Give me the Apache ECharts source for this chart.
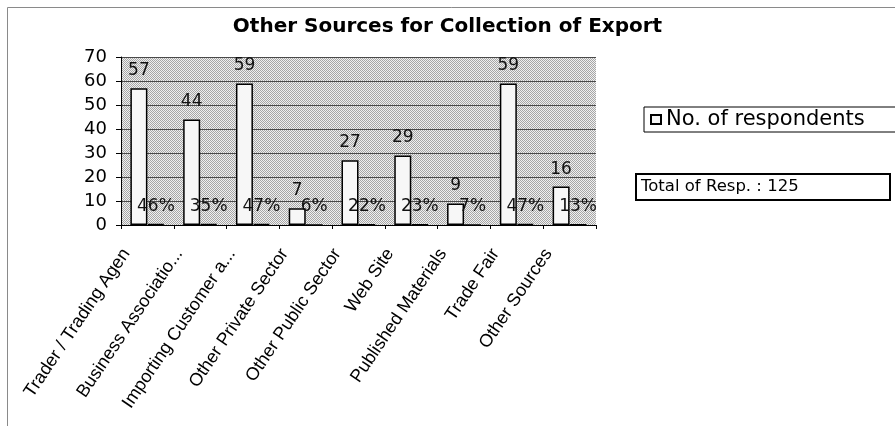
<!DOCTYPE html>
<html>
<head>
<meta charset="utf-8">
<title>Other Sources for Collection of Export</title>
<script src="https://cdn.jsdelivr.net/npm/echarts@6/dist/echarts.min.js"></script>
<style>
  html, body { margin: 0; padding: 0; background: #fff; }
  #chart { width: 895px; height: 426px; }
</style>
</head>
<body>
<div id="chart"></div>
<script>
// Source categories (long names are cut short the way the axis shows them)
const categories = [
  'Trader / Trading Agen',
  'Business Associatio...',
  'Importing Customer a...',
  'Other Private Sector',
  'Other Public Sector',
  'Web Site',
  'Published Materials',
  'Trade Fair',
  'Other Sources'
];

// Number of respondents per source
const respondents = [57, 44, 59, 7, 27, 29, 9, 59, 16];

// Share of all respondents per source (fraction of the total)
const shares = [0.46, 0.35, 0.47, 0.06, 0.22, 0.23, 0.07, 0.47, 0.13];

const totalRespondents = 125;

const yTicks = { min: 0, max: 70, step: 10 };

// Dithered grey fill for the plot area
function makeDither(dark, light) {
  const c = document.createElement('canvas');
  c.width = 2; c.height = 2;
  const ctx = c.getContext('2d');
  ctx.fillStyle = light; ctx.fillRect(0, 0, 2, 2);
  ctx.fillStyle = dark;
  ctx.fillRect(0, 0, 1, 1);
  ctx.fillRect(1, 1, 1, 1);
  return c;
}
const plotFill = { image: makeDither('#a6a6a6', '#f0f0f0'), repeat: 'repeat' };

const chart = echarts.init(document.getElementById('chart'), null, { renderer: 'canvas' });

const labelFont = 'DejaVu Sans';

chart.setOption({
  animation: false,
  backgroundColor: '#ffffff',
  title: {
    text: 'Other Sources for Collection of Export',
    left: 'center',
    top: 12,
    textStyle: {
      fontFamily: labelFont,
      fontWeight: 'bold',
      fontSize: 20,
      color: '#000'
    }
  },
  legend: {
    data: ['No. of respondents'],
    left: 644,
    top: 107,
    orient: 'vertical',
    padding: [2, 6, 2, 6],
    borderColor: '#000',
    borderWidth: 1,
    itemWidth: 10,
    itemHeight: 9,
    itemGap: 6,
    icon: 'rect',
    textStyle: {
      fontFamily: labelFont,
      fontSize: 21,
      lineHeight: 17,
      color: '#000',
      width: 250
    }
  },
  grid: {
    left: 121,
    right: 299,
    top: 57,
    bottom: 201,
    show: true,
    backgroundColor: plotFill,
    borderWidth: 0
  },
  xAxis: {
    type: 'category',
    data: categories,
    axisLine: { show: true, lineStyle: { color: '#000', width: 1 } },
    axisTick: { show: true, length: 4, lineStyle: { color: '#000' } },
    axisLabel: {
      interval: 0,
      rotate: 56,
      margin: -6,
      padding: [0, 38, 0, 0],
      fontFamily: 'Liberation Sans',
      fontSize: 18,
      color: '#000'
    }
  },
  yAxis: {
    type: 'value',
    min: yTicks.min,
    max: yTicks.max,
    interval: yTicks.step,
    axisLine: { show: true, lineStyle: { color: '#000', width: 1 } },
    axisTick: { show: true, length: 5, lineStyle: { color: '#000' } },
    axisLabel: {
      margin: 14,
      fontFamily: labelFont,
      fontSize: 18,
      color: '#000'
    },
    splitLine: { show: true, lineStyle: { color: '#4a4a4a', width: 1 } }
  },
  series: [
    {
      name: 'No. of respondents',
      type: 'bar',
      data: respondents,
      barWidth: 17,
      barGap: '0%',
      itemStyle: { color: '#f7f7f7', borderColor: '#000', borderWidth: 1.5 },
      label: {
        show: true,
        position: 'top',
        distance: 9,
        fontFamily: labelFont,
        fontSize: 17,
        color: '#111'
      }
    },
    {
      name: 'Share of respondents',
      type: 'bar',
      data: shares,
      barWidth: 17,
      barGap: '0%',
      itemStyle: { color: '#f7f7f7', borderColor: '#000', borderWidth: 1.5 },
      label: {
        show: true,
        position: 'top',
        distance: 9,
        fontFamily: labelFont,
        fontSize: 17,
        color: '#111',
        formatter: p => Math.round(p.value * 100) + '%'
      }
    }
  ],
  graphic: [
    {
      type: 'rect',
      silent: true,
      shape: { x: 7.5, y: 7.5, width: 1000, height: 1000 },
      style: { fill: 'none', stroke: '#8a8a8a', lineWidth: 1 }
    },
    {
      type: 'group',
      left: 635,
      top: 173,
      children: [
        {
          type: 'rect',
          shape: { x: 0, y: 0, width: 254, height: 26 },
          style: { fill: '#fff', stroke: '#000', lineWidth: 2 }
        },
        {
          type: 'text',
          x: 5,
          y: 13,
          style: {
            text: 'Total of Resp. : ' + totalRespondents,
            fontFamily: labelFont,
            fontSize: 16.5,
            fill: '#000',
            verticalAlign: 'middle'
          }
        }
      ]
    }
  ]
});
</script>
</body>
</html>
